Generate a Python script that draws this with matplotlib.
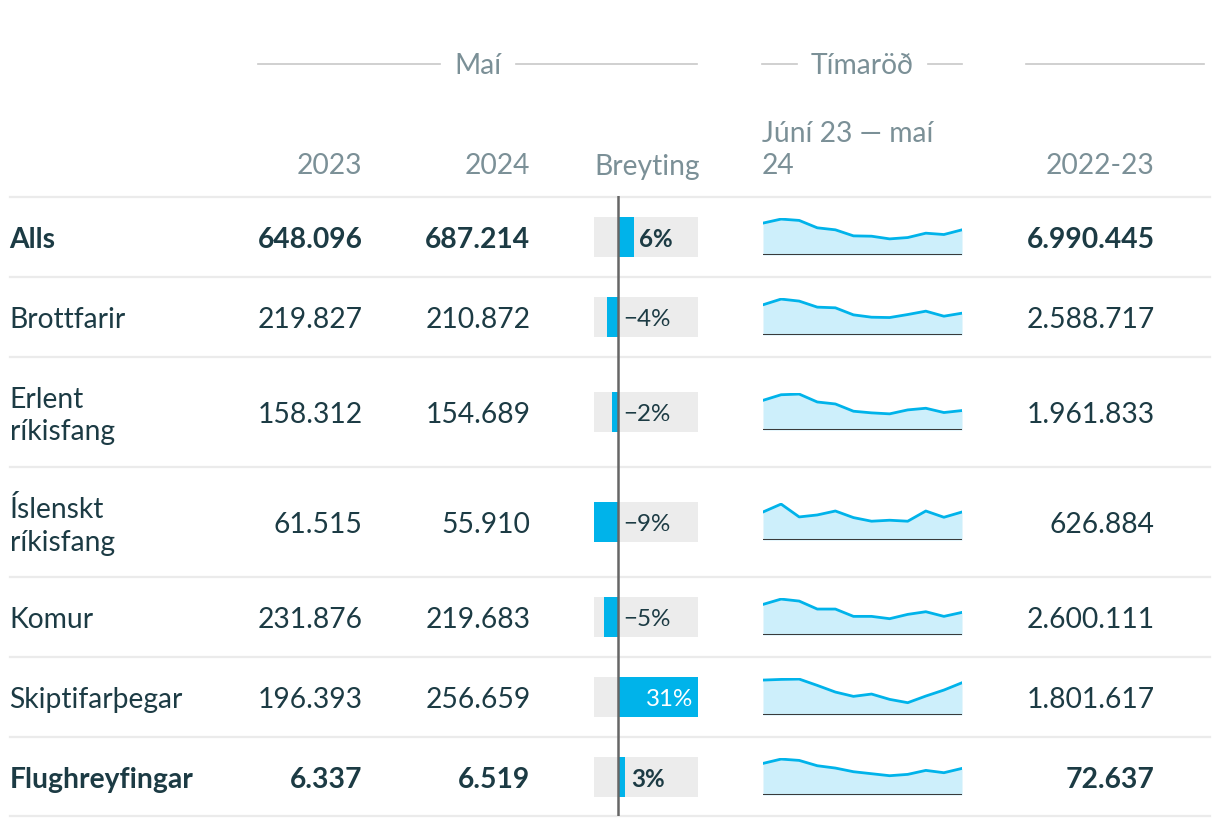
import matplotlib
matplotlib.use("Agg")
import matplotlib.pyplot as plt
import numpy as np

plt.rcParams['font.family'] = ['Lato', 'DejaVu Sans']

# ---------------- data ----------------
labels = ["Alls", "Brottfarir", "Erlent\nríkisfang", "Íslenskt\nríkisfang",
          "Komur", "Skiptifarþegar", "Flughreyfingar"]
bold_rows = [True, False, False, False, False, False, True]
may_2023 = [648096, 219827, 158312, 61515, 231876, 196393, 6337]
may_2024 = [687214, 210872, 154689, 55910, 219683, 256659, 6519]
total_2022_23 = [6990445, 2588717, 1961833, 626884, 2600111, 1801617, 72637]
# monthly series Jún 23 - maí 24 (relative values read from sparklines)
spark = [
    [95, 107, 103, 81, 75, 57, 56, 48, 52, 65, 61, 75],
    [90, 107, 101, 83, 81, 60, 53, 52, 61, 71, 56, 65],
    [90, 107, 109, 85, 79, 57, 52, 49, 61, 66, 53, 59],
    [85, 109, 70, 76, 88, 68, 57, 60, 57, 88, 69, 85],
    [92, 108, 102, 78, 78, 56, 56, 49, 62, 70, 56, 68],
    [105, 107, 108, 89, 69, 56, 63, 47, 37, 57, 75, 97],
    [95, 108, 104, 88, 81, 70, 64, 58, 62, 74, 67, 80],
]
col_headers = ["2023", "2024", "Breyting", "Júní 23 — maí\n24", "2022-23"]
group_headers = ["Maí", "Tímaröð"]

# ---------------- styling ----------------
W, H = 1220, 828
DARK = "#1c3b44"
GREY = "#7b9097"
RULE = "#ebebeb"
BLUE = "#00b3ea"
LIGHTBLUE = "#cdeffb"
BOXGREY = "#ececec"
FS = 20.3
FS_BAR = 17.4
LS = 1.32

def fmt(n):
    return f"{n:,}".replace(",", ".")

change = [(b / a - 1) * 100 for a, b in zip(may_2023, may_2024)]

fig = plt.figure(figsize=(W / 100, H / 100), dpi=100)
ax = fig.add_axes([0, 0, 1, 1])
ax.set_xlim(0, W)
ax.set_ylim(H, 0)
ax.axis("off")

def fig_axes(x0, y0, x1, y1):
    return fig.add_axes([x0 / W, 1 - y1 / H, (x1 - x0) / W, (y1 - y0) / H])

# group headers
ax.text(478, 66, group_headers[0], ha="center", va="center", color=GREY, fontsize=FS)
ax.plot([258, 440], [65, 65], color="#c8c8c8", lw=1.2)
ax.plot([516, 697], [65, 65], color="#c8c8c8", lw=1.2)
ax.text(862, 66, group_headers[1], ha="center", va="center", color=GREY, fontsize=FS)
ax.plot([762, 797], [65, 65], color="#c8c8c8", lw=1.2)
ax.plot([928, 962], [65, 65], color="#c8c8c8", lw=1.2)
ax.plot([1026, 1204], [65, 65], color="#c8c8c8", lw=1.2)

# column headers
RX = [362.5, 530.5, 699.5, 1154.5]
ax.text(RX[0], 166.5, col_headers[0], ha="right", va="center", color=GREY, fontsize=FS)
ax.text(RX[1], 166.5, col_headers[1], ha="right", va="center", color=GREY, fontsize=FS)
ax.text(RX[2], 166.5, col_headers[2], ha="right", va="center", color=GREY, fontsize=FS)
ax.text(762, 150, col_headers[3], ha="left", va="center", color=GREY, fontsize=FS,
        linespacing=LS)
ax.text(RX[3], 166.5, col_headers[4], ha="right", va="center", color=GREY, fontsize=FS)

# row geometry
seps = [197, 277, 357, 467, 577, 657, 737, 817]
centers = [(seps[i] + seps[i + 1]) / 2 + 1 for i in range(len(labels))]
for y in seps:
    ax.plot([10, 1210], [y + 0.5, y + 0.5], color=RULE, lw=1.6, zorder=1)

for i, lab in enumerate(labels):
    cy = centers[i] + 2
    w = "bold" if bold_rows[i] else "normal"
    ax.text(9.5, cy + (1 if "\n" in lab else 0), lab, ha="left", va="center",
            color=DARK, fontsize=FS, fontweight=w, linespacing=LS)
    ax.text(RX[0], cy, fmt(may_2023[i]), ha="right", va="center", color=DARK,
            fontsize=FS, fontweight=w)
    ax.text(RX[1], cy, fmt(may_2024[i]), ha="right", va="center", color=DARK,
            fontsize=FS, fontweight=w)
    ax.text(RX[3], cy, fmt(total_2022_23[i]), ha="right", va="center", color=DARK,
            fontsize=FS, fontweight=w)

# change bars column
bx = fig_axes(594, seps[0], 698, seps[-1])
bx.set_xlim(min(change), max(change))
bx.set_ylim(seps[-1], seps[0])
bx.axis("off")
for i, c in enumerate(change):
    cy = centers[i]
    bx.barh(cy, max(change) - min(change), left=min(change), height=40,
            color=BOXGREY, zorder=1)
    bx.barh(cy, c, left=0, height=40, color=BLUE, zorder=2)
    w = "bold" if bold_rows[i] else "normal"
    txt = f"{round(c):d}%".replace("-", "−")
    if c > 20:
        bx.annotate(txt, (c, cy + 1.5), xytext=(-3.5, 0), textcoords="offset points",
                    ha="right", va="center", color="white",
                    fontsize=FS_BAR, fontweight=w, zorder=4)
    else:
        xpos = max(c, 0)
        bx.annotate(txt, (xpos, cy + 1.5), xytext=(4, 0), textcoords="offset points",
                    ha="left", va="center", color=DARK, fontsize=FS_BAR,
                    fontweight=w, zorder=4)
bx.axvline(0, color="#666666", lw=1.8, zorder=3)

# sparklines
for i, s in enumerate(spark):
    cy = centers[i]
    sx = fig_axes(763, cy - 19, 962, cy + 18)
    x = np.arange(len(s))
    sx.fill_between(x, 0, s, color=LIGHTBLUE, lw=0)
    sx.plot(x, s, color=BLUE, lw=2.0, solid_joinstyle="round")
    sx.axhline(0, color="#3a3a3a", lw=2.2)
    sx.set_xlim(0, len(s) - 1)
    sx.set_ylim(0, max(s) * 1.03)
    sx.axis("off")

fig.savefig("out.png", dpi=100)
